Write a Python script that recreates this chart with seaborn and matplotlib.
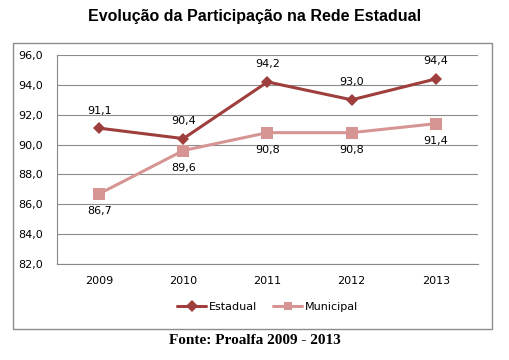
import matplotlib
matplotlib.use("Agg")
import matplotlib.pyplot as plt
import seaborn as sns
import pandas as pd
from matplotlib.patches import Rectangle

years = ["2009", "2010", "2011", "2012", "2013"]
estadual = [91.1, 90.4, 94.2, 93.0, 94.4]
municipal = [86.7, 89.6, 90.8, 90.8, 91.4]
series_names = ["Estadual", "Municipal"]
colors = ["#9E3E3D", "#D69593"]

df = pd.DataFrame({
    "Ano": years * 2,
    "Valor": estadual + municipal,
    "Rede": [series_names[0]] * len(years) + [series_names[1]] * len(years),
})

sns.set_style("white")
plt.rcParams["font.family"] = ["DejaVu Sans"]
plt.rcParams["text.color"] = "black"
plt.rcParams["xtick.color"] = "black"
plt.rcParams["ytick.color"] = "black"

fig = plt.figure(figsize=(5.1, 3.6), dpi=100)
ax = fig.add_axes([0.112, 0.267, 0.825, 0.58])

sns.lineplot(data=df, x="Ano", y="Valor", hue="Rede", style="Rede",
             markers={"Estadual": "D", "Municipal": "s"}, dashes=False,
             palette=dict(zip(series_names, colors)), linewidth=2.2,
             markersize=6, markeredgewidth=0, ax=ax, sort=False)
for line, ms in zip(ax.lines[:2], [6, 8]):
    line.set_markersize(ms)

ax.set_ylim(82, 96)
ax.set_xlim(-0.5, 4.5)
ax.set_yticks([82, 84, 86, 88, 90, 92, 94, 96])
ax.set_yticklabels([f"{v:.1f}".replace(".", ",") for v in ax.get_yticks()], fontsize=8)
ax.set_xticks(range(len(years)))
ax.set_xticklabels(years, fontsize=8)
ax.set_xticks([i + 0.5 for i in range(-1, len(years))], minor=True)
ax.tick_params(axis="x", which="major", length=0, pad=9)
ax.tick_params(axis="x", which="minor", length=4, color="#888888", direction="out")
ax.tick_params(axis="y", length=4, color="#888888", direction="out", pad=6)
ax.grid(axis="y", color="#8C8C8C", linewidth=0.8)
ax.set_axisbelow(True)
for s in ["top", "right"]:
    ax.spines[s].set_visible(False)
ax.spines["left"].set_color("#888888")
ax.spines["bottom"].set_color("#888888")
ax.spines["left"].set_linewidth(0.8)
ax.spines["bottom"].set_linewidth(0.8)
ax.set_xlabel("")
ax.set_ylabel("")

for i, v in enumerate(estadual):
    ax.annotate(f"{v:.1f}".replace(".", ","), (i, v), xytext=(0, 9),
                textcoords="offset points", ha="center", va="bottom", fontsize=8)
for i, v in enumerate(municipal):
    ax.annotate(f"{v:.1f}".replace(".", ","), (i, v), xytext=(0, -9),
                textcoords="offset points", ha="center", va="top", fontsize=8)

leg = ax.legend(loc="center", bbox_to_anchor=(0.5, (1 - 307 / 360 - 0.267) / 0.58),
                ncol=2, frameon=False, fontsize=8, handlelength=2.6,
                columnspacing=1.5, handletextpad=0.2)

fig.patches.append(Rectangle((13 / 510, 1 - 329 / 360), (492 - 13) / 510, (329 - 43) / 360,
                             transform=fig.transFigure, fill=False,
                             edgecolor="#8C8C8C", linewidth=1.0))

fig.text(0.5, 1 - 16 / 360, "Evolução da Participação na Rede Estadual",
         ha="center", va="center", fontsize=11.5, fontweight="bold",
         family="Liberation Sans", color="black")
fig.text(0.5, 1 - 341 / 360, "Fonte: Proalfa 2009 - 2013",
         ha="center", va="center", fontsize=11, fontweight="bold",
         family="Liberation Serif", color="black")

fig.savefig("out.png", dpi=100)
